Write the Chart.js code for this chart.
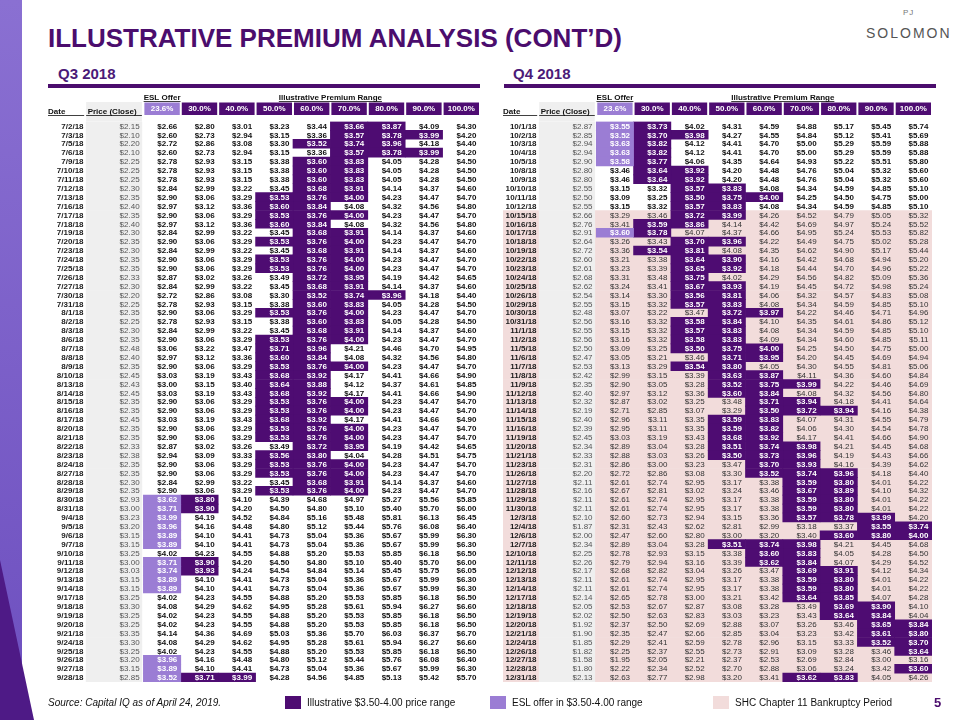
<!DOCTYPE html>
<html>
<head>
<meta charset="utf-8">
<script src="https://cdn.jsdelivr.net/npm/chart.js@4.4.1/dist/chart.umd.min.js"></script>
<style>
  body { margin: 0; width: 960px; height: 720px; position: relative; overflow: hidden; background: #fff;
         font-family: "Liberation Sans", Arial, sans-serif; }
  .abs { position: absolute; line-height: 1; white-space: nowrap; }
  #sidebar { position: absolute; left: 0; top: 0; width: 22px; height: 720px;
             background: linear-gradient(to bottom, #8a70d2, #6d4fbf); }
  #sidebarTip { position: absolute; left: 0; top: 0; width: 40px; height: 720px; background: #4e1a86;
                clip-path: polygon(0 560px, 34px 720px, 0 720px); }
  #title { left: 48px; top: 25px; font-size: 26px; font-weight: bold; color: #4b0d6d; }
  .quarter { top: 66px; font-size: 15px; font-weight: bold; color: #4b1a78; }
  .rule { position: absolute; top: 84px; height: 4px; width: 432px; background: #4b0d6d; }
  canvas { position: absolute; top: 0; }
  .legend { top: 698px; font-size: 10px; color: #111; }
  .swatch { position: absolute; top: 696px; width: 16px; height: 13px; }
</style>
</head>
<body>
<div id="sidebar"></div>
<div id="sidebarTip"></div>
<div id="title" class="abs">ILLUSTRATIVE PREMIUM ANALYSIS (CONT’D)</div>
<div class="abs" style="left:903px;top:9px;font-size:8px;color:#777;letter-spacing:1px">PJ</div>
<div class="abs" style="left:866px;top:26px;font-size:14px;color:#555;letter-spacing:2px">SOLOMON</div>
<div class="abs quarter" style="left:58px">Q3 2018</div>
<div class="abs quarter" style="left:513px">Q4 2018</div>
<div class="rule" style="left:48px"></div>
<div class="rule" style="left:504px"></div>
<canvas id="q3Table" width="490" height="720" style="left:0"></canvas>
<canvas id="q4Table" width="470" height="720" style="left:490px"></canvas>
<div class="abs" style="left:48px;top:698px;font-size:10px;font-style:italic;color:#111">Source: Capital IQ as of April 24, 2019.</div>
<div class="swatch" style="left:285px;background:#4e0c72"></div>
<div class="abs legend" style="left:307px">Illustrative $3.50-4.00 price range</div>
<div class="swatch" style="left:490px;background:#9b7dd4"></div>
<div class="abs legend" style="left:512px">ESL offer in $3.50-4.00 range</div>
<div class="swatch" style="left:713px;background:#f2dcdb"></div>
<div class="abs legend" style="left:735px">SHC Chapter 11 Bankruptcy Period</div>
<div class="abs" style="left:934px;top:696px;font-size:13px;font-weight:bold;color:#4b0d6d">5</div>

<script>
// column headers and the highlight band
const premiumLabels = ['23.6%', '30.0%', '40.0%', '50.0%', '60.0%', '70.0%', '80.0%', '90.0%', '100.0%'];
const rangeLow = 3.50;
const rangeHigh = 4.00;

// Q3 2018
const q3Dates = ['7/2/18', '7/3/18', '7/5/18', '7/6/18', '7/9/18', '7/10/18', '7/11/18', '7/12/18', '7/13/18', '7/16/18',
    '7/17/18', '7/18/18', '7/19/18', '7/20/18', '7/23/18', '7/24/18', '7/25/18', '7/26/18', '7/27/18', '7/30/18',
    '7/31/18', '8/1/18', '8/2/18', '8/3/18', '8/6/18', '8/7/18', '8/8/18', '8/9/18', '8/10/18', '8/13/18',
    '8/14/18', '8/15/18', '8/16/18', '8/17/18', '8/20/18', '8/21/18', '8/22/18', '8/23/18', '8/24/18', '8/27/18',
    '8/28/18', '8/29/18', '8/30/18', '8/31/18', '9/4/18', '9/5/18', '9/6/18', '9/7/18', '9/10/18', '9/11/18',
    '9/12/18', '9/13/18', '9/14/18', '9/17/18', '9/18/18', '9/19/18', '9/20/18', '9/21/18', '9/24/18', '9/25/18',
    '9/26/18', '9/27/18', '9/28/18'];
const q3Prices = [2.15, 2.10, 2.20, 2.10, 2.25, 2.25, 2.25, 2.30, 2.35, 2.40,
    2.35, 2.40, 2.30, 2.35, 2.30, 2.35, 2.35, 2.33, 2.30, 2.20,
    2.25, 2.35, 2.25, 2.30, 2.35, 2.48, 2.40, 2.35, 2.45, 2.43,
    2.45, 2.35, 2.35, 2.45, 2.35, 2.35, 2.33, 2.38, 2.35, 2.35,
    2.30, 2.35, 2.93, 3.00, 3.23, 3.20, 3.15, 3.15, 3.25, 3.00,
    3.03, 3.15, 3.15, 3.25, 3.30, 3.25, 3.25, 3.35, 3.30, 3.25,
    3.20, 3.15, 2.85];
const q3Prem236 = [2.66, 2.60, 2.72, 2.60, 2.78, 2.78, 2.78, 2.84, 2.90, 2.97,
    2.90, 2.97, 2.84, 2.90, 2.84, 2.90, 2.90, 2.87, 2.84, 2.72,
    2.78, 2.90, 2.78, 2.84, 2.90, 3.06, 2.97, 2.90, 3.03, 3.00,
    3.03, 2.90, 2.90, 3.03, 2.90, 2.90, 2.87, 2.94, 2.90, 2.90,
    2.84, 2.90, 3.62, 3.71, 3.99, 3.96, 3.89, 3.89, 4.02, 3.71,
    3.74, 3.89, 3.89, 4.02, 4.08, 4.02, 4.02, 4.14, 4.08, 4.02,
    3.96, 3.89, 3.52];
const q3Prem30 = [2.80, 2.73, 2.86, 2.73, 2.93, 2.93, 2.93, 2.99, 3.06, 3.12,
    3.06, 3.12, 2.99, 3.06, 2.99, 3.06, 3.06, 3.02, 2.99, 2.86,
    2.93, 3.06, 2.93, 2.99, 3.06, 3.22, 3.12, 3.06, 3.19, 3.15,
    3.19, 3.06, 3.06, 3.19, 3.06, 3.06, 3.02, 3.09, 3.06, 3.06,
    2.99, 3.06, 3.80, 3.90, 4.19, 4.16, 4.10, 4.10, 4.23, 3.90,
    3.93, 4.10, 4.10, 4.23, 4.29, 4.23, 4.23, 4.36, 4.29, 4.23,
    4.16, 4.10, 3.71];
const q3Prem40 = [3.01, 2.94, 3.08, 2.94, 3.15, 3.15, 3.15, 3.22, 3.29, 3.36,
    3.29, 3.36, 3.22, 3.29, 3.22, 3.29, 3.29, 3.26, 3.22, 3.08,
    3.15, 3.29, 3.15, 3.22, 3.29, 3.47, 3.36, 3.29, 3.43, 3.40,
    3.43, 3.29, 3.29, 3.43, 3.29, 3.29, 3.26, 3.33, 3.29, 3.29,
    3.22, 3.29, 4.10, 4.20, 4.52, 4.48, 4.41, 4.41, 4.55, 4.20,
    4.24, 4.41, 4.41, 4.55, 4.62, 4.55, 4.55, 4.69, 4.62, 4.55,
    4.48, 4.41, 3.99];
const q3Prem50 = [3.23, 3.15, 3.30, 3.15, 3.38, 3.38, 3.38, 3.45, 3.53, 3.60,
    3.53, 3.60, 3.45, 3.53, 3.45, 3.53, 3.53, 3.49, 3.45, 3.30,
    3.38, 3.53, 3.38, 3.45, 3.53, 3.71, 3.60, 3.53, 3.68, 3.64,
    3.68, 3.53, 3.53, 3.68, 3.53, 3.53, 3.49, 3.56, 3.53, 3.53,
    3.45, 3.53, 4.39, 4.50, 4.84, 4.80, 4.73, 4.73, 4.88, 4.50,
    4.54, 4.73, 4.73, 4.88, 4.95, 4.88, 4.88, 5.03, 4.95, 4.88,
    4.80, 4.73, 4.28];
const q3Prem60 = [3.44, 3.36, 3.52, 3.36, 3.60, 3.60, 3.60, 3.68, 3.76, 3.84,
    3.76, 3.84, 3.68, 3.76, 3.68, 3.76, 3.76, 3.72, 3.68, 3.52,
    3.60, 3.76, 3.60, 3.68, 3.76, 3.96, 3.84, 3.76, 3.92, 3.88,
    3.92, 3.76, 3.76, 3.92, 3.76, 3.76, 3.72, 3.80, 3.76, 3.76,
    3.68, 3.76, 4.68, 4.80, 5.16, 5.12, 5.04, 5.04, 5.20, 4.80,
    4.84, 5.04, 5.04, 5.20, 5.28, 5.20, 5.20, 5.36, 5.28, 5.20,
    5.12, 5.04, 4.56];
const q3Prem70 = [3.66, 3.57, 3.74, 3.57, 3.83, 3.83, 3.83, 3.91, 4.00, 4.08,
    4.00, 4.08, 3.91, 4.00, 3.91, 4.00, 4.00, 3.95, 3.91, 3.74,
    3.83, 4.00, 3.83, 3.91, 4.00, 4.21, 4.08, 4.00, 4.17, 4.12,
    4.17, 4.00, 4.00, 4.17, 4.00, 4.00, 3.95, 4.04, 4.00, 4.00,
    3.91, 4.00, 4.97, 5.10, 5.48, 5.44, 5.36, 5.36, 5.53, 5.10,
    5.14, 5.36, 5.36, 5.53, 5.61, 5.53, 5.53, 5.70, 5.61, 5.53,
    5.44, 5.36, 4.85];
const q3Prem80 = [3.87, 3.78, 3.96, 3.78, 4.05, 4.05, 4.05, 4.14, 4.23, 4.32,
    4.23, 4.32, 4.14, 4.23, 4.14, 4.23, 4.23, 4.19, 4.14, 3.96,
    4.05, 4.23, 4.05, 4.14, 4.23, 4.46, 4.32, 4.23, 4.41, 4.37,
    4.41, 4.23, 4.23, 4.41, 4.23, 4.23, 4.19, 4.28, 4.23, 4.23,
    4.14, 4.23, 5.27, 5.40, 5.81, 5.76, 5.67, 5.67, 5.85, 5.40,
    5.45, 5.67, 5.67, 5.85, 5.94, 5.85, 5.85, 6.03, 5.94, 5.85,
    5.76, 5.67, 5.13];
const q3Prem90 = [4.09, 3.99, 4.18, 3.99, 4.28, 4.28, 4.28, 4.37, 4.47, 4.56,
    4.47, 4.56, 4.37, 4.47, 4.37, 4.47, 4.47, 4.42, 4.37, 4.18,
    4.28, 4.47, 4.28, 4.37, 4.47, 4.70, 4.56, 4.47, 4.66, 4.61,
    4.66, 4.47, 4.47, 4.66, 4.47, 4.47, 4.42, 4.51, 4.47, 4.47,
    4.37, 4.47, 5.56, 5.70, 6.13, 6.08, 5.99, 5.99, 6.18, 5.70,
    5.75, 5.99, 5.99, 6.18, 6.27, 6.18, 6.18, 6.37, 6.27, 6.18,
    6.08, 5.99, 5.42];
const q3Prem100 = [4.30, 4.20, 4.40, 4.20, 4.50, 4.50, 4.50, 4.60, 4.70, 4.80,
    4.70, 4.80, 4.60, 4.70, 4.60, 4.70, 4.70, 4.65, 4.60, 4.40,
    4.50, 4.70, 4.50, 4.60, 4.70, 4.95, 4.80, 4.70, 4.90, 4.85,
    4.90, 4.70, 4.70, 4.90, 4.70, 4.70, 4.65, 4.75, 4.70, 4.70,
    4.60, 4.70, 5.85, 6.00, 6.45, 6.40, 6.30, 6.30, 6.50, 6.00,
    6.05, 6.30, 6.30, 6.50, 6.60, 6.50, 6.50, 6.70, 6.60, 6.50,
    6.40, 6.30, 5.70];

// Q4 2018
const q4Dates = ['10/1/18', '10/2/18', '10/3/18', '10/4/18', '10/5/18', '10/8/18', '10/9/18', '10/10/18', '10/11/18', '10/12/18',
    '10/15/18', '10/16/18', '10/17/18', '10/18/18', '10/19/18', '10/22/18', '10/23/18', '10/24/18', '10/25/18', '10/26/18',
    '10/29/18', '10/30/18', '10/31/18', '11/1/18', '11/2/18', '11/5/18', '11/6/18', '11/7/18', '11/8/18', '11/9/18',
    '11/12/18', '11/13/18', '11/14/18', '11/15/18', '11/16/18', '11/19/18', '11/20/18', '11/21/18', '11/23/18', '11/26/18',
    '11/27/18', '11/28/18', '11/29/18', '11/30/18', '12/3/18', '12/4/18', '12/6/18', '12/7/18', '12/10/18', '12/11/18',
    '12/12/18', '12/13/18', '12/14/18', '12/17/18', '12/18/18', '12/19/18', '12/20/18', '12/21/18', '12/24/18', '12/26/18',
    '12/27/18', '12/28/18', '12/31/18'];
const q4BankruptcyStart = '10/15/18';
const q4Prices = [2.87, 2.85, 2.94, 2.94, 2.90, 2.80, 2.80, 2.55, 2.50, 2.55,
    2.66, 2.76, 2.91, 2.64, 2.72, 2.60, 2.61, 2.68, 2.62, 2.54,
    2.55, 2.48, 2.56, 2.55, 2.56, 2.50, 2.47, 2.53, 2.42, 2.35,
    2.40, 2.32, 2.19, 2.40, 2.39, 2.45, 2.34, 2.33, 2.31, 2.20,
    2.11, 2.16, 2.11, 2.11, 2.10, 1.87, 2.00, 2.34, 2.25, 2.26,
    2.17, 2.11, 2.11, 2.14, 2.05, 2.02, 1.92, 1.90, 1.85, 1.82,
    1.58, 1.80, 2.13];
const q4Prem236 = [3.55, 3.52, 3.63, 3.63, 3.58, 3.46, 3.46, 3.15, 3.09, 3.15,
    3.29, 3.41, 3.60, 3.26, 3.36, 3.21, 3.23, 3.31, 3.24, 3.14,
    3.15, 3.07, 3.16, 3.15, 3.16, 3.09, 3.05, 3.13, 2.99, 2.90,
    2.97, 2.87, 2.71, 2.96, 2.95, 3.03, 2.89, 2.88, 2.86, 2.72,
    2.61, 2.67, 2.61, 2.61, 2.60, 2.31, 2.47, 2.89, 2.78, 2.79,
    2.68, 2.61, 2.61, 2.65, 2.53, 2.50, 2.37, 2.35, 2.29, 2.25,
    1.95, 2.22, 2.63];
const q4Prem30 = [3.73, 3.70, 3.82, 3.82, 3.77, 3.64, 3.64, 3.32, 3.25, 3.32,
    3.46, 3.59, 3.78, 3.43, 3.54, 3.38, 3.39, 3.48, 3.41, 3.30,
    3.32, 3.22, 3.32, 3.32, 3.32, 3.25, 3.21, 3.29, 3.15, 3.05,
    3.12, 3.02, 2.85, 3.11, 3.11, 3.19, 3.04, 3.03, 3.00, 2.86,
    2.74, 2.81, 2.74, 2.74, 2.73, 2.43, 2.60, 3.04, 2.93, 2.94,
    2.82, 2.74, 2.74, 2.78, 2.67, 2.63, 2.50, 2.47, 2.41, 2.37,
    2.05, 2.34, 2.77];
const q4Prem40 = [4.02, 3.98, 4.12, 4.12, 4.06, 3.92, 3.92, 3.57, 3.50, 3.57,
    3.72, 3.86, 4.07, 3.70, 3.81, 3.64, 3.65, 3.75, 3.67, 3.56,
    3.57, 3.47, 3.58, 3.57, 3.58, 3.50, 3.46, 3.54, 3.39, 3.28,
    3.36, 3.25, 3.07, 3.35, 3.35, 3.43, 3.28, 3.26, 3.23, 3.08,
    2.95, 3.02, 2.95, 2.95, 2.94, 2.62, 2.80, 3.28, 3.15, 3.16,
    3.04, 2.95, 2.95, 3.00, 2.87, 2.83, 2.69, 2.66, 2.59, 2.55,
    2.21, 2.52, 2.98];
const q4Prem50 = [4.31, 4.27, 4.41, 4.41, 4.35, 4.20, 4.20, 3.83, 3.75, 3.83,
    3.99, 4.14, 4.37, 3.96, 4.08, 3.90, 3.92, 4.02, 3.93, 3.81,
    3.83, 3.72, 3.84, 3.83, 3.83, 3.75, 3.71, 3.80, 3.63, 3.52,
    3.60, 3.48, 3.29, 3.59, 3.59, 3.68, 3.51, 3.50, 3.47, 3.30,
    3.17, 3.24, 3.17, 3.17, 3.15, 2.81, 3.00, 3.51, 3.38, 3.39,
    3.26, 3.17, 3.17, 3.21, 3.08, 3.03, 2.88, 2.85, 2.78, 2.73,
    2.37, 2.70, 3.20];
const q4Prem60 = [4.59, 4.55, 4.70, 4.70, 4.64, 4.48, 4.48, 4.08, 4.00, 4.08,
    4.26, 4.42, 4.66, 4.22, 4.35, 4.16, 4.18, 4.29, 4.19, 4.06,
    4.08, 3.97, 4.10, 4.08, 4.09, 4.00, 3.95, 4.05, 3.87, 3.75,
    3.84, 3.71, 3.50, 3.83, 3.82, 3.92, 3.74, 3.73, 3.70, 3.52,
    3.38, 3.46, 3.38, 3.38, 3.36, 2.99, 3.20, 3.74, 3.60, 3.62,
    3.47, 3.38, 3.38, 3.42, 3.28, 3.23, 3.07, 3.04, 2.96, 2.91,
    2.53, 2.88, 3.41];
const q4Prem70 = [4.88, 4.84, 5.00, 5.00, 4.93, 4.76, 4.76, 4.34, 4.25, 4.34,
    4.52, 4.69, 4.95, 4.49, 4.62, 4.42, 4.44, 4.56, 4.45, 4.32,
    4.34, 4.22, 4.35, 4.34, 4.34, 4.25, 4.20, 4.30, 4.11, 3.99,
    4.08, 3.94, 3.72, 4.07, 4.06, 4.17, 3.98, 3.96, 3.93, 3.74,
    3.59, 3.67, 3.59, 3.59, 3.57, 3.18, 3.40, 3.98, 3.83, 3.84,
    3.69, 3.59, 3.59, 3.64, 3.49, 3.43, 3.26, 3.23, 3.15, 3.09,
    2.69, 3.06, 3.62];
const q4Prem80 = [5.17, 5.12, 5.29, 5.29, 5.22, 5.04, 5.04, 4.59, 4.50, 4.59,
    4.79, 4.97, 5.24, 4.75, 4.90, 4.68, 4.70, 4.82, 4.72, 4.57,
    4.59, 4.46, 4.61, 4.59, 4.60, 4.50, 4.45, 4.55, 4.36, 4.22,
    4.32, 4.18, 3.94, 4.31, 4.30, 4.41, 4.21, 4.19, 4.16, 3.96,
    3.80, 3.89, 3.80, 3.80, 3.78, 3.37, 3.60, 4.21, 4.05, 4.07,
    3.91, 3.80, 3.80, 3.85, 3.69, 3.64, 3.46, 3.42, 3.33, 3.28,
    2.84, 3.24, 3.83];
const q4Prem90 = [5.45, 5.41, 5.59, 5.59, 5.51, 5.32, 5.32, 4.85, 4.75, 4.85,
    5.05, 5.24, 5.53, 5.02, 5.17, 4.94, 4.96, 5.09, 4.98, 4.83,
    4.85, 4.71, 4.86, 4.85, 4.85, 4.75, 4.69, 4.81, 4.60, 4.46,
    4.56, 4.41, 4.16, 4.55, 4.54, 4.66, 4.45, 4.43, 4.39, 4.18,
    4.01, 4.10, 4.01, 4.01, 3.99, 3.55, 3.80, 4.45, 4.28, 4.29,
    4.12, 4.01, 4.01, 4.07, 3.90, 3.84, 3.65, 3.61, 3.52, 3.46,
    3.00, 3.42, 4.05];
const q4Prem100 = [5.74, 5.69, 5.88, 5.88, 5.80, 5.60, 5.60, 5.10, 5.00, 5.10,
    5.32, 5.52, 5.82, 5.28, 5.44, 5.20, 5.22, 5.36, 5.24, 5.08,
    5.10, 4.96, 5.12, 5.10, 5.11, 5.00, 4.94, 5.06, 4.84, 4.69,
    4.80, 4.64, 4.38, 4.79, 4.78, 4.90, 4.68, 4.66, 4.62, 4.40,
    4.22, 4.32, 4.22, 4.22, 4.20, 3.74, 4.00, 4.68, 4.50, 4.52,
    4.34, 4.22, 4.22, 4.28, 4.10, 4.04, 3.84, 3.80, 3.70, 3.64,
    3.16, 3.60, 4.26];

const DARK = '#4e0c72';
const ESL = '#9b7dd4';
const PINK = '#f2dcdb';
const GRAY = '#efefef';
const FONT = '"Liberation Sans Narrow", "Arial Narrow", "Liberation Sans", Arial, sans-serif';
const PRICE_COL = [-1.53, -0.04];

const inRange = v => v >= rangeLow - 1e-9 && v <= rangeHigh + 1e-9;
const money = v => '$' + v.toFixed(2);

function underlined(ctx, text, x, y, align) {
    ctx.textAlign = align;
    ctx.textBaseline = 'alphabetic';
    ctx.fillText(text, x, y);
    const w = ctx.measureText(text).width;
    const x0 = align === 'center' ? x - w / 2 : x;
    ctx.fillRect(x0, y + 1.5, w, 0.8);
}

// draws headers and every cell text on top of the bars
function cellTextPlugin(dates, prices, columns, pinkFrom) {
    return {
        id: 'cellText',
        beforeDatasetsDraw(chart) {
            const { ctx, chartArea, scales: { x } } = chart;
            const p0 = x.getPixelForValue(PRICE_COL[0]);
            const p1 = x.getPixelForValue(PRICE_COL[1]);
            ctx.save();
            ctx.fillStyle = GRAY;
            ctx.fillRect(p0, chartArea.top - 19.5, p1 - p0, 19.5);
            ctx.restore();
        },
        afterDatasetsDraw(chart) {
            const { ctx, chartArea, scales: { x, y } } = chart;
            const hTop = chartArea.top - 19;
            const hBot = chartArea.top - 6.5;
            ctx.save();

            ctx.fillStyle = '#111';
            ctx.font = 'bold 8px ' + FONT;
            underlined(ctx, 'ESL Offer', x.getPixelForValue(0.5), hTop - 3, 'center');
            underlined(ctx, 'Illustrative Premium Range', x.getPixelForValue(5), hTop - 3, 'center');

            // Date / Price header
            ctx.font = 'bold 8px ' + FONT;
            ctx.textAlign = 'left';
            ctx.fillText('Date', chartArea.left, hBot - 1.5);
            ctx.fillRect(chartArea.left, hBot, x.getPixelForValue(PRICE_COL[0]) - 2 - chartArea.left, 0.8);
            ctx.fillText('Price (Close)', x.getPixelForValue(PRICE_COL[0]) + 1.5, hBot - 1.5);
            ctx.fillRect(x.getPixelForValue(PRICE_COL[0]), hBot, x.getPixelForValue(PRICE_COL[1]) - x.getPixelForValue(PRICE_COL[0]), 0.8);

            // premium header boxes
            premiumLabels.forEach((lab, j) => {
                const x0 = x.getPixelForValue(j) + 1;
                const x1 = x.getPixelForValue(j + 1) - 1;
                ctx.fillStyle = j === 0 ? ESL : DARK;
                ctx.fillRect(x0, hTop, x1 - x0, hBot - hTop);
                ctx.fillStyle = '#fff';
                ctx.textAlign = 'center';
                ctx.textBaseline = 'middle';
                ctx.fillText(lab, (x0 + x1) / 2, (hTop + hBot) / 2 + 0.5);
            });

            // rows
            ctx.textAlign = 'right';
            ctx.textBaseline = 'middle';
            dates.forEach((d, i) => {
                const cy = y.getPixelForValue(i) + 0.5;
                const pink = pinkFrom >= 0 && i >= pinkFrom;
                ctx.font = 'bold 8px ' + FONT;
                ctx.fillStyle = '#1a1a1a';
                ctx.fillText(d, x.getPixelForValue(-1.6), cy);
                ctx.font = '8px ' + FONT;
                ctx.fillStyle = '#555';
                ctx.fillText(money(prices[i]), x.getPixelForValue(-0.1), cy);
                columns.forEach((col, j) => {
                    const hi = inRange(col[i]);
                    ctx.font = (hi || !pink ? 'bold ' : '') + '8px ' + FONT;
                    ctx.fillStyle = hi ? '#fff' : (pink ? '#333' : '#111');
                    ctx.fillText(money(col[i]), x.getPixelForValue(j + 1) - 3.5, cy);
                });
            });
            ctx.restore();
        }
    };
}

function buildTable(canvasId, dates, prices, columns, pinkFrom, padding, xMin) {
    const datasets = columns.map((col, j) => ({
        data: col.map(v => inRange(v) ? [j, j + 1] : null),
        backgroundColor: j === 0 ? ESL : DARK,
        order: 1
    }));
    datasets.push({
        data: dates.map(() => PRICE_COL),
        backgroundColor: GRAY,
        order: 2
    });
    if (pinkFrom >= 0) {
        datasets.push({
            data: dates.map((d, i) => i >= pinkFrom ? [xMin, PRICE_COL[0]] : null),
            backgroundColor: PINK,
            order: 3
        });
        datasets.push({
            data: dates.map((d, i) => i >= pinkFrom ? [PRICE_COL[1], 9] : null),
            backgroundColor: PINK,
            order: 3
        });
    }

    new Chart(document.getElementById(canvasId), {
        type: 'bar',
        data: { labels: dates, datasets },
        options: {
            indexAxis: 'y',
            responsive: false,
            animation: false,
            events: [],
            layout: { padding },
            datasets: {
                bar: { grouped: false, barPercentage: 1, categoryPercentage: 1, borderWidth: 0 }
            },
            scales: {
                x: { type: 'linear', min: xMin, max: 9, display: false },
                y: { display: false }
            },
            plugins: { legend: { display: false }, tooltip: { enabled: false } }
        },
        plugins: [cellTextPlugin(dates, prices, columns, pinkFrom)]
    });
}

buildTable('q3Table', q3Dates, q3Prices,
    [q3Prem236, q3Prem30, q3Prem40, q3Prem50, q3Prem60, q3Prem70, q3Prem80, q3Prem90, q3Prem100],
    -1, { left: 48, right: 10, top: 121.5, bottom: 38 }, -2.55);

buildTable('q4Table', q4Dates, q4Prices,
    [q4Prem236, q4Prem30, q4Prem40, q4Prem50, q4Prem60, q4Prem70, q4Prem80, q4Prem90, q4Prem100],
    q4Dates.indexOf(q4BankruptcyStart), { left: 13, right: 28, top: 121.5, bottom: 38 }, -2.5);
</script>
</body>
</html>
